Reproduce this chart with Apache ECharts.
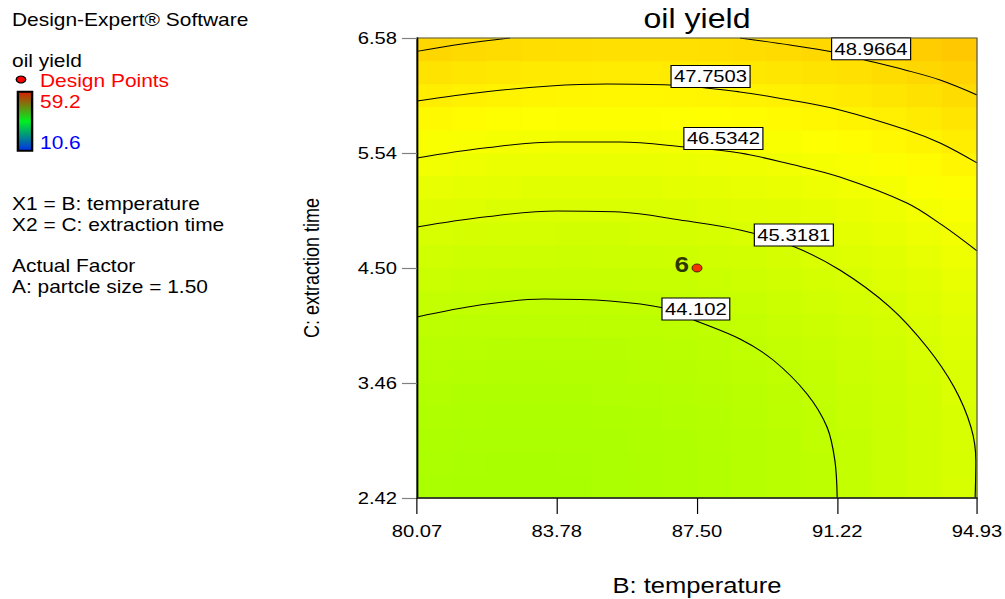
<!DOCTYPE html>
<html>
<head>
<meta charset="utf-8">
<script src="https://cdn.jsdelivr.net/npm/echarts@6/dist/echarts.min.js"></script>
<style>
  html, body { margin: 0; padding: 0; background: #ffffff; overflow: hidden; }
  /* the plot is laid out at 845px and widened to the 1005px page */
  #chart { width: 845px; height: 599px; transform: scaleX(1.18935); transform-origin: 0 0; }
</style>
</head>
<body>
<div id="chart"></div>
<script>
// ---- axis ticks (actual factor units) ----
const tempTicks = [80.07, 83.78, 87.50, 91.22, 94.93];   // B: temperature
const timeTicks = [2.42, 3.46, 4.50, 5.54, 6.58];        // C: extraction time

// ---- predicted oil yield, 16 columns (80.07 -> 94.93) x 20 rows (2.42 -> 6.58, bottom row first) ----
const yieldGrid = [
  [42.99, 42.95, 42.93, 42.93, 42.97, 43.03, 43.12, 43.24, 43.38, 43.55, 43.75, 43.97, 44.23, 44.51, 44.81, 45.15],
  [43.04, 42.99, 42.97, 42.97, 43.00, 43.06, 43.14, 43.25, 43.39, 43.56, 43.75, 43.97, 44.22, 44.49, 44.79, 45.12],
  [43.12, 43.07, 43.04, 43.03, 43.06, 43.11, 43.19, 43.30, 43.43, 43.59, 43.78, 43.99, 44.23, 44.50, 44.80, 45.13],
  [43.23, 43.17, 43.13, 43.13, 43.15, 43.19, 43.27, 43.37, 43.50, 43.65, 43.84, 44.05, 44.28, 44.55, 44.84, 45.16],
  [43.37, 43.30, 43.26, 43.25, 43.27, 43.31, 43.38, 43.47, 43.60, 43.75, 43.92, 44.13, 44.36, 44.62, 44.91, 45.22],
  [43.54, 43.46, 43.42, 43.40, 43.41, 43.45, 43.51, 43.60, 43.72, 43.87, 44.04, 44.24, 44.47, 44.72, 45.00, 45.31],
  [43.73, 43.66, 43.61, 43.58, 43.59, 43.62, 43.68, 43.77, 43.88, 44.02, 44.19, 44.38, 44.61, 44.85, 45.13, 45.44],
  [43.96, 43.88, 43.82, 43.79, 43.80, 43.82, 43.88, 43.96, 44.07, 44.20, 44.36, 44.55, 44.77, 45.02, 45.29, 45.59],
  [44.21, 44.13, 44.07, 44.04, 44.03, 44.05, 44.10, 44.18, 44.28, 44.41, 44.57, 44.76, 44.97, 45.21, 45.47, 45.77],
  [44.50, 44.41, 44.34, 44.31, 44.30, 44.31, 44.36, 44.43, 44.53, 44.65, 44.80, 44.99, 45.19, 45.43, 45.69, 45.98],
  [44.81, 44.72, 44.65, 44.60, 44.59, 44.60, 44.64, 44.71, 44.80, 44.92, 45.07, 45.24, 45.45, 45.68, 45.93, 46.22],
  [45.16, 45.06, 44.98, 44.93, 44.91, 44.92, 44.95, 45.02, 45.10, 45.22, 45.36, 45.53, 45.73, 45.95, 46.21, 46.49],
  [45.53, 45.42, 45.34, 45.29, 45.27, 45.27, 45.30, 45.35, 45.44, 45.55, 45.69, 45.85, 46.04, 46.26, 46.51, 46.78],
  [45.93, 45.82, 45.74, 45.68, 45.65, 45.65, 45.67, 45.72, 45.80, 45.91, 46.04, 46.20, 46.39, 46.60, 46.84, 47.11],
  [46.36, 46.25, 46.16, 46.10, 46.06, 46.05, 46.07, 46.12, 46.19, 46.29, 46.42, 46.58, 46.76, 46.97, 47.20, 47.47],
  [46.83, 46.70, 46.61, 46.54, 46.50, 46.49, 46.50, 46.54, 46.61, 46.71, 46.83, 46.98, 47.16, 47.36, 47.59, 47.85],
  [47.32, 47.19, 47.09, 47.02, 46.97, 46.95, 46.96, 47.00, 47.06, 47.15, 47.27, 47.42, 47.59, 47.79, 48.02, 48.27],
  [47.84, 47.70, 47.60, 47.52, 47.47, 47.45, 47.45, 47.48, 47.54, 47.63, 47.74, 47.88, 48.05, 48.24, 48.47, 48.71],
  [48.39, 48.25, 48.14, 48.06, 48.00, 47.97, 47.97, 48.00, 48.05, 48.13, 48.24, 48.38, 48.54, 48.73, 48.94, 49.19],
  [48.97, 48.82, 48.71, 48.62, 48.56, 48.53, 48.52, 48.54, 48.59, 48.67, 48.77, 48.90, 49.06, 49.24, 49.45, 49.69]
];

// ---- contour lines: [temperature, extraction time] ----
const level48_9664a = [[80.07, 6.459], [81.26, 6.526], [82.54, 6.58]];
const level48_9664b = [[88.64, 6.58], [89.97, 6.517], [91.11, 6.453], [91.96, 6.381], [93.02, 6.291], [93.95, 6.200], [94.93, 6.065]];
const level47_7503 = [[80.07, 6.010], [81.85, 6.092], [83.60, 6.146], [85.11, 6.164], [86.78, 6.155], [88.64, 6.092], [89.97, 6.019], [91.29, 5.929], [93.07, 5.748], [93.95, 5.630], [94.93, 5.450]];
const level46_5342 = [[80.07, 5.495], [81.85, 5.585], [83.79, 5.640], [85.46, 5.640], [87.18, 5.594], [88.64, 5.540], [89.97, 5.440], [91.29, 5.323], [93.07, 5.088], [94.00, 4.889], [94.93, 4.654]];
const level45_3181 = [[80.07, 4.871], [81.85, 4.961], [83.79, 5.016], [85.46, 5.006], [87.05, 4.934], [88.64, 4.844], [89.97, 4.708], [91.29, 4.482], [92.62, 4.147], [93.60, 3.786], [94.32, 3.424], [94.77, 3.062], [94.90, 2.755], [94.88, 2.42]];
const level44_102 = [[80.07, 4.057], [81.74, 4.165], [83.44, 4.220], [85.19, 4.202], [86.62, 4.138], [87.42, 4.030], [88.64, 3.858], [89.52, 3.668], [90.42, 3.361], [90.95, 3.062], [91.16, 2.755], [91.22, 2.42]];

// contour value tags: [temperature, extraction time, text]
const contourLabels = [
  [92.12, 6.482, '48.9664'],
  [87.86, 6.232, '47.7503'],
  [88.20, 5.671, '46.5342'],
  [90.07, 4.798, '45.3181'],
  [87.47, 4.129, '44.102']
];

// design points: [temperature, extraction time, replicate count]
const designPoints = [[87.50, 4.50, '6']];

// colour scale of the response
const yieldMin = 10.6;
const yieldMax = 59.2;

const FONT = '"Liberation Sans", Arial, Helvetica, sans-serif';
const SX = 1005 / 845;              // horizontal widening of the page
const px = v => v / SX;             // page x -> layout x
const LEGEND_FS = 17.6;

const heatData = [];
yieldGrid.forEach((row, j) => row.forEach((v, i) => heatData.push([i, j, v])));

const contourLevels = [level48_9664a, level48_9664b, level47_7503, level46_5342, level45_3181, level44_102];

const gridRect = { left: px(417), right: 845 - px(977), top: 38, bottom: 101, outerBoundsMode: 'none', containLabel: false };

function legendText(x, y, text, fill) {
  return {
    type: 'text', x: px(x), y: y,
    style: { text: text, fontSize: LEGEND_FS, fontFamily: FONT, fill: fill || '#000', verticalAlign: 'middle' }
  };
}

const chart = echarts.init(document.getElementById('chart'), null, { renderer: 'svg' });

const option = {
  animation: false,
  textStyle: { fontFamily: FONT },
  grid: [
    Object.assign({ show: false }, gridRect),
    Object.assign({ show: true, z: 10, borderColor: '#555555', borderWidth: 1, backgroundColor: 'transparent' }, gridRect)
  ],
  xAxis: [
    { type: 'category', gridIndex: 0, show: false, data: yieldGrid[0].map((_, i) => String(i)) },
    {
      type: 'value', gridIndex: 1, min: tempTicks[0], max: tempTicks[tempTicks.length - 1], z: 12,
      name: 'B: temperature', nameLocation: 'middle', nameGap: 77,
      nameTextStyle: { fontSize: 21.5, color: '#000', fontFamily: FONT },
      axisLine: { lineStyle: { color: '#222', width: 1.5 } },
      axisTick: { customValues: tempTicks, length: 16, lineStyle: { color: '#000', width: 1 } },
      axisLabel: { customValues: tempTicks, formatter: v => v.toFixed(2), fontSize: 17, color: '#000', margin: 25 },
      splitLine: { show: false }
    }
  ],
  yAxis: [
    { type: 'category', gridIndex: 0, show: false, data: yieldGrid.map((_, j) => String(j)) },
    {
      type: 'value', gridIndex: 1, min: timeTicks[0], max: timeTicks[timeTicks.length - 1], z: 12,
      name: 'C: extraction time', nameLocation: 'middle', nameGap: 80,
      nameTextStyle: { fontSize: 18, color: '#000', fontFamily: FONT },
      axisLine: { lineStyle: { color: '#000', width: 1.5 } },
      axisTick: { customValues: timeTicks, length: px(15), lineStyle: { color: '#808080', width: 1.2 } },
      axisLabel: { customValues: timeTicks, formatter: v => v.toFixed(2), fontSize: 17, color: '#000', margin: px(20) },
      splitLine: { show: false }
    }
  ],
  visualMap: {
    show: false, type: 'continuous', seriesIndex: 0, dimension: 2,
    min: yieldMin, max: yieldMax,
    inRange: { color: ['#0000ff', '#00ffff', '#00ff00', '#ffff00', '#ff0000'] }
  },
  series: [
    {
      type: 'heatmap', xAxisIndex: 0, yAxisIndex: 0, data: heatData, z: 1,
      itemStyle: { borderWidth: 0 }, emphasis: { disabled: true }
    }
  ].concat(contourLevels.map(pts => ({
    type: 'line', xAxisIndex: 1, yAxisIndex: 1, data: pts, z: 3,
    smooth: 0.35, symbol: 'none', silent: true,
    lineStyle: { color: '#000', width: 1 }
  }))).concat([
    {
      type: 'scatter', xAxisIndex: 1, yAxisIndex: 1, data: contourLabels, z: 5, silent: true,
      symbolSize: 1, itemStyle: { color: '#ffffff', opacity: 1 },
      label: {
        show: true, position: 'inside', formatter: p => p.data[2], opacity: 1,
        fontSize: 17, lineHeight: 17, color: '#000', fontFamily: FONT,
        backgroundColor: '#ffffff', borderColor: '#000', borderWidth: 1, padding: [2, 2, 2, 2]
      }
    },
    {
      type: 'scatter', xAxisIndex: 1, yAxisIndex: 1, data: designPoints, z: 6, silent: true,
      symbol: 'circle', symbolSize: [8.4, 8],
      itemStyle: { color: '#ff0000', borderColor: '#000', borderWidth: 0.8 },
      label: {
        show: true, position: 'left', distance: 2, offset: [0, -4],
        formatter: p => p.data[2], fontSize: 22, fontWeight: 'bold', color: '#000', fontFamily: FONT
      }
    }
  ]),
  graphic: [
    { type: 'text', x: px(697), y: 18, style: { text: 'oil yield', fontSize: 27, fontFamily: FONT, fill: '#000', align: 'center', verticalAlign: 'middle' } },
    legendText(12, 20, 'Design-Expert® Software'),
    legendText(12, 61, 'oil yield'),
    { type: 'circle', x: px(21), y: 79.5, scaleY: 0.85, shape: { cx: 0, cy: 0, r: 4 }, style: { fill: '#ff0000', stroke: '#000', lineWidth: 1.2 } },
    legendText(40, 81, 'Design Points', '#ff0000'),
    {
      type: 'rect', shape: { x: px(16.7) + 1, y: 91.7, width: px(33.3) - px(16.7) - 2, height: 59 },
      style: {
        lineWidth: 2, stroke: '#000',
        fill: new echarts.graphic.LinearGradient(0, 0, 0, 1, [
          { offset: 0, color: '#d82000' },
          { offset: 0.5, color: '#00f020' },
          { offset: 1, color: '#0030e8' }
        ])
      }
    },
    legendText(40, 102.5, String(yieldMax), '#ff0000'),
    legendText(40, 143, String(yieldMin), '#0000ff'),
    legendText(12, 204, 'X1 = B: temperature'),
    legendText(12, 225, 'X2 = C: extraction time'),
    legendText(12, 266, 'Actual Factor'),
    legendText(12, 287, 'A: partcle size = 1.50')
  ]
};

chart.setOption(option);
</script>
</body>
</html>
